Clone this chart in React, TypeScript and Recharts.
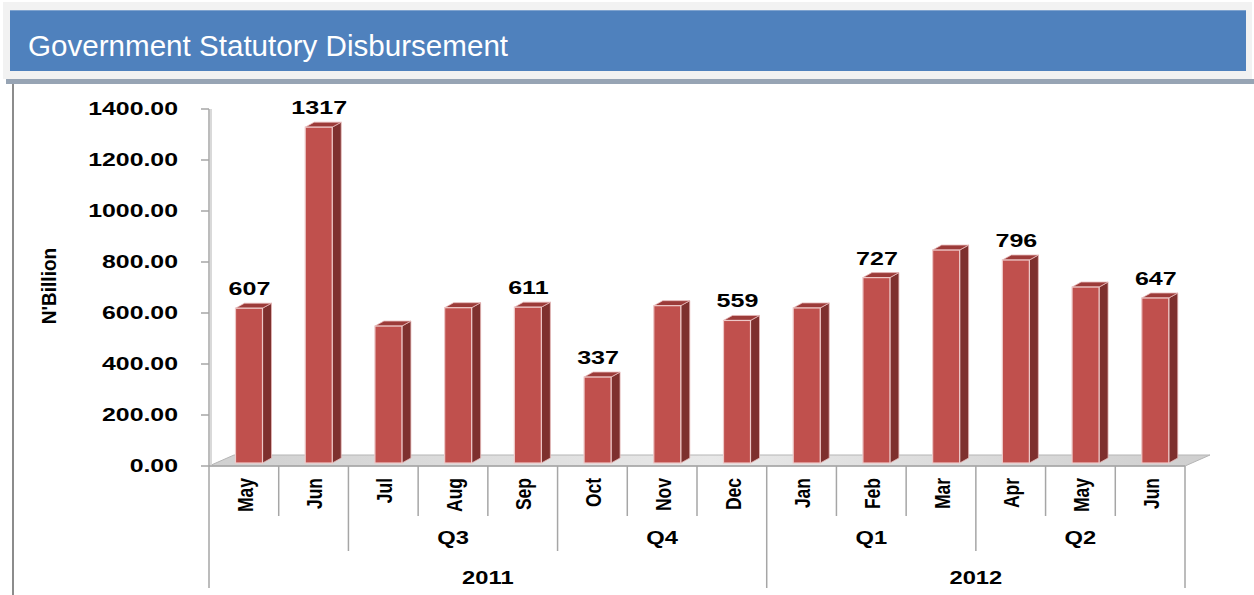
import React from 'react';
import { BarChart, Bar, XAxis, YAxis, LabelList } from 'recharts';

const months = ['May', 'Jun', 'Jul', 'Aug', 'Sep', 'Oct', 'Nov', 'Dec', 'Jan', 'Feb', 'Mar', 'Apr', 'May', 'Jun'];
const quarters = ['', '', 'Q3', 'Q3', 'Q3', 'Q4', 'Q4', 'Q4', 'Q1', 'Q1', 'Q1', 'Q2', 'Q2', 'Q2'];
const years = ['2011', '2011', '2011', '2011', '2011', '2011', '2011', '2011', '2012', '2012', '2012', '2012', '2012', '2012'];
const values = [607, 1317, 537, 609, 611, 337, 617, 559, 608, 727, 835, 796, 690, 647];
const labelled = [true, true, false, false, true, true, false, true, false, true, false, true, false, true];
const yTicks = [0, 200, 400, 600, 800, 1000, 1200, 1400];

// layout
const W = 1254;
const H = 595;
const PLOT_LEFT = 209;
const PLOT_RIGHT = 1185;
const PLOT_TOP = 109;
const AXIS_Y = 466;
const BAND = (PLOT_RIGHT - PLOT_LEFT) / months.length;
const DEPTH_X = 9;
const DEPTH_Y = 5;
const STRETCH = 1.32; // the original image is stretched sideways

const FONT = "'Liberation Sans', Arial, sans-serif";
const GRID = '#a6a6a6';

const data = months.map((m, i) => ({
  month: m,
  value: values[i],
  label: labelled[i] ? values[i] : null,
}));

// horizontal text, widened like the source picture
const WideText = ({ x, y, anchor, size, stretch = STRETCH, children }: any) => (
  <text
    transform={`translate(${x}, ${y}) scale(${stretch}, 1)`}
    textAnchor={anchor}
    fontFamily={FONT}
    fontWeight="bold"
    fontSize={size}
    fill="#000"
  >
    {children}
  </text>
);

// 3d-ish column: front face + dark side + top face
const Bar3D = (props: any) => {
  const { x, y, width, height } = props;
  if (height == null || width == null) return null;
  const fx = x + 5.5;
  const fy = y - 3;
  const w = width;
  const h = height;
  return (
    <g>
      <polygon
        points={`${fx + w},${fy} ${fx + w + DEPTH_X},${fy - DEPTH_Y} ${fx + w + DEPTH_X},${fy + h - DEPTH_Y} ${fx + w},${fy + h}`}
        fill="#7e302e"
        stroke="#e6b8b7"
        strokeWidth={0.8}
      />
      <polygon
        points={`${fx},${fy} ${fx + DEPTH_X},${fy - DEPTH_Y} ${fx + w + DEPTH_X},${fy - DEPTH_Y} ${fx + w},${fy}`}
        fill="#9c3b39"
        stroke="#e6b8b7"
        strokeWidth={0.8}
      />
      <rect x={fx} y={fy} width={w} height={h} fill="#c0504d" stroke="#eec9c8" strokeWidth={1.2} />
    </g>
  );
};

const renderLabel = (props: any) => {
  const { x, y, width, value } = props;
  if (value == null) return null;
  return (
    <WideText x={x + width / 2 + 6} y={y - 16} anchor="middle" size={19}>
      {value}
    </WideText>
  );
};

const YTick = (props: any) => {
  const { x, y, payload } = props;
  return (
    <WideText x={x} y={y + 6} anchor="end" size={17.5} stretch={1.42}>
      {Number(payload.value).toFixed(2)}
    </WideText>
  );
};

const groupLength = (arr: string[], i: number) => {
  let n = 1;
  while (i + n < arr.length && arr[i + n] === arr[i]) n++;
  return n;
};

const MonthTick = (props: any) => {
  const { x, index } = props;
  const i = index as number;
  const left = x - BAND / 2;
  const yearStart = i === 0 || years[i] !== years[i - 1];
  const qStart = yearStart || quarters[i] !== quarters[i - 1];
  const lineEnd = yearStart ? 588 : qStart ? 551 : 516;
  const parts: React.ReactNode[] = [];
  parts.push(<line key="d" x1={left} x2={left} y1={AXIS_Y} y2={lineEnd} stroke={GRID} strokeWidth={1.5} />);
  if (i === months.length - 1) {
    parts.push(<line key="e" x1={x + BAND / 2} x2={x + BAND / 2} y1={AXIS_Y} y2={588} stroke={GRID} strokeWidth={1.5} />);
  }
  parts.push(
    <text
      key="m"
      transform={`translate(${x + 1}, 478) rotate(-90) scale(0.92, 1.15)`}
      textAnchor="end"
      dominantBaseline="central"
      fontFamily={FONT}
      fontWeight="bold"
      fontSize={19}
      fill="#000"
    >
      {months[i]}
    </text>
  );
  if (qStart && quarters[i]) {
    const n = groupLength(quarters, i);
    parts.push(
      <WideText key="q" x={left + (n * BAND) / 2} y={544} anchor="middle" size={18}>
        {quarters[i]}
      </WideText>
    );
  }
  if (yearStart) {
    const n = groupLength(years, i);
    parts.push(
      <WideText key="y" x={left + (n * BAND) / 2} y={584} anchor="middle" size={18}>
        {years[i]}
      </WideText>
    );
  }
  return <g>{parts}</g>;
};

export default function App() {
  return (
    <div style={{ position: 'absolute', left: 0, top: 0, width: W, height: H, background: '#fff', overflow: 'hidden' }}>
      {/* header */}
      <div style={{ position: 'absolute', left: 3, top: 2, width: 1249, height: 77, background: '#f2f2f2' }} />
      <div style={{ position: 'absolute', left: 6, top: 79, width: 1248, height: 5, background: '#97a4b4' }} />
      <div
        style={{
          position: 'absolute',
          left: 10,
          top: 10,
          width: 1236,
          height: 61,
          background: '#4f81bd',
          borderTop: '1px solid #7fa3cf',
          boxSizing: 'border-box',
        }}
      />
      <div
        style={{
          position: 'absolute',
          left: 28,
          top: 29,
          color: '#fff',
          fontFamily: FONT,
          fontSize: 29,
          lineHeight: '34px',
          whiteSpace: 'nowrap',
          transform: 'scaleX(1.02)',
          transformOrigin: 'left center',
        }}
      >
        Government Statutory Disbursement
      </div>
      <div style={{ position: 'absolute', left: 12, top: 84, width: 2, height: H - 84, background: '#8c8c8c' }} />

      {/* floor and wall */}
      <svg width={W} height={H} style={{ position: 'absolute', left: 0, top: 0 }}>
        <defs>
          <linearGradient id="floor" x1="0" y1="0" x2="1" y2="0">
            <stop offset="0" stopColor="#d0d0d0" />
            <stop offset="0.5" stopColor="#e8e8e8" />
            <stop offset="1" stopColor="#cfcfcf" />
          </linearGradient>
        </defs>
        <polygon
          points={`${PLOT_LEFT},${AXIS_Y} ${PLOT_RIGHT},${AXIS_Y} ${PLOT_RIGHT + 25},${AXIS_Y - 11} ${PLOT_LEFT + 25},${AXIS_Y - 11}`}
          fill="url(#floor)"
          stroke="#b5b5b5"
          strokeWidth={1}
        />
        <line x1={PLOT_LEFT + 2} x2={PLOT_LEFT + 2} y1={PLOT_TOP} y2={AXIS_Y} stroke="#d9d9d9" strokeWidth={2} />
      </svg>

      {/* y axis title */}
      <div
        style={{
          position: 'absolute',
          left: 49,
          top: 286,
          transform: 'translate(-50%, -50%) rotate(-90deg) scaleY(1.1)',
          fontFamily: FONT,
          fontWeight: 'bold',
          fontSize: 19,
          whiteSpace: 'nowrap',
          color: '#000',
        }}
      >
        N'Billion
      </div>

      <div style={{ position: 'absolute', left: 0, top: 0 }}>
        <BarChart width={W} height={H} data={data} margin={{ top: PLOT_TOP, right: W - PLOT_RIGHT, bottom: 0, left: 0 }}>
          <YAxis
            type="number"
            domain={[0, 1400]}
            ticks={yTicks}
            width={PLOT_LEFT}
            tick={YTick}
            tickSize={8}
            tickMargin={23}
            axisLine={{ stroke: GRID, strokeWidth: 1.5 }}
            tickLine={{ stroke: GRID, strokeWidth: 1.5 }}
          />
          <XAxis
            dataKey="month"
            height={H - AXIS_Y}
            interval={0}
            tick={MonthTick}
            tickLine={false}
            axisLine={{ stroke: GRID, strokeWidth: 1.5 }}
          />
          <Bar dataKey="value" barSize={27} shape={Bar3D} isAnimationActive={false}>
            <LabelList dataKey="label" content={renderLabel} />
          </Bar>
        </BarChart>
      </div>
    </div>
  );
}
